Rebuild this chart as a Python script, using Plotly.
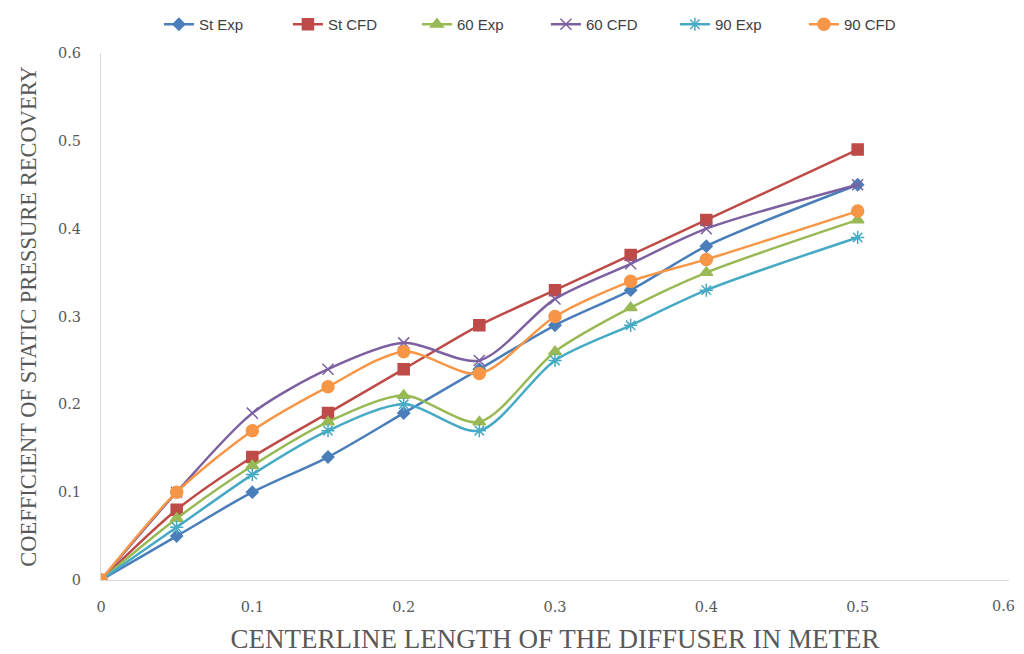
import plotly.graph_objects as go

x_vals = [0, 0.05, 0.1, 0.15, 0.2, 0.25, 0.3, 0.35, 0.4, 0.5]
st_exp = [0, 0.05, 0.10, 0.14, 0.19, 0.24, 0.29, 0.33, 0.38, 0.45]
st_cfd = [0, 0.08, 0.14, 0.19, 0.24, 0.29, 0.33, 0.37, 0.41, 0.49]
e60_exp = [0, 0.07, 0.13, 0.18, 0.21, 0.18, 0.26, 0.31, 0.35, 0.41]
e60_cfd = [0, 0.10, 0.19, 0.24, 0.27, 0.25, 0.32, 0.36, 0.40, 0.45]
e90_exp = [0, 0.06, 0.12, 0.17, 0.20, 0.17, 0.25, 0.29, 0.33, 0.39]
e90_cfd = [0, 0.10, 0.17, 0.22, 0.26, 0.235, 0.30, 0.34, 0.365, 0.42]

tick_vals = [0, 0.1, 0.2, 0.3, 0.4, 0.5, 0.6]
y_tick_text = ["0", "0.1", "0.2", "0.3", "0.4", "0.5", "0.6"]
x_tick_text = ["0", "0.1", "0.2", "0.3", "0.4", "0.5", ""]
x_last_label = "0.6"

series = [
    ("St Exp", st_exp, "#4A7EBB", "diamond", 9),
    ("St CFD", st_cfd, "#BE4B48", "square", 11),
    ("60 Exp", e60_exp, "#98B954", "triangle-up", 11),
    ("60 CFD", e60_cfd, "#7D60A0", "x-thin-open", 11),
    ("90 Exp", e90_exp, "#46AAC5", "asterisk-open", 11),
    ("90 CFD", e90_cfd, "#F79646", "circle", 12),
]

fig = go.Figure()
for name, ys, color, sym, size in series:
    fig.add_trace(go.Scatter(
        x=x_vals, y=ys, name=name, mode="lines+markers",
        line=dict(color=color, width=2.5, shape="spline", smoothing=0.8),
        marker=dict(symbol=sym, size=size, color=color,
                    line=dict(color=color, width=1.5)),
    ))

tick_font = dict(family="DejaVu Serif, serif", size=14.5, color="#595959")
title_font = dict(family="Liberation Serif, Times New Roman, serif", color="#595959")

# last x tick label drawn slightly inward so it stays inside the visible page
fig.add_annotation(x=tick_vals[-1], y=0, xref="x", yref="paper", text=x_last_label,
                   showarrow=False, xanchor="center", yanchor="top", xshift=-6, yshift=-16,
                   font=tick_font)

# page body has an 8px margin, so the figure is sized to 1016x646
fig.update_layout(
    width=1016, height=646,
    margin=dict(l=93, r=15, t=45, b=74, autoexpand=False),
    paper_bgcolor="white", plot_bgcolor="white",
    showlegend=True,
    legend=dict(orientation="h", x=0.49, xanchor="center", y=1.0, yref="container",
                yanchor="top",
                font=dict(family="Liberation Sans Narrow, Arial Narrow, sans-serif", size=15, color="#404040"),
                traceorder="normal", entrywidth=84, entrywidthmode="pixels"),
    xaxis=dict(range=[0, 0.6], tickvals=tick_vals, ticktext=x_tick_text,
               showgrid=False, zeroline=False, showline=True, linecolor="#D9D9D9", linewidth=1,
               ticks="", ticklabelstandoff=14, automargin=False,
               tickfont=tick_font,
               title=dict(text="CENTERLINE LENGTH OF THE DIFFUSER IN METER", standoff=28,
                          font=dict(size=27, **title_font))),
    yaxis=dict(range=[0, 0.6], tickvals=tick_vals, ticktext=y_tick_text,
               showgrid=False, zeroline=False, showline=True, linecolor="#D9D9D9", linewidth=1,
               ticks="", ticklabelstandoff=16, automargin=False,
               tickfont=tick_font,
               title=dict(text="COEFFICIENT OF STATIC PRESSURE RECOVERY",
                          font=dict(size=22.5, **title_font))),
)

fig.write_html("out.html")
